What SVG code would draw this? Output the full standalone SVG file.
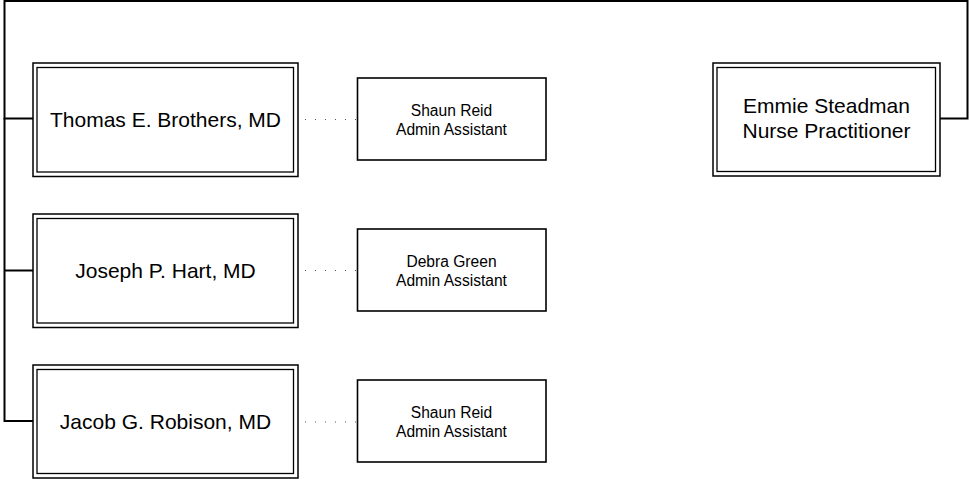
<svg xmlns="http://www.w3.org/2000/svg" width="970" height="479" viewBox="0 0 970 479">
<style>
.o{fill:#fff;stroke:#000;stroke-width:1.5}
.i{fill:none;stroke:#000;stroke-width:1.3}
.a{fill:#fff;stroke:#000;stroke-width:1.6}
.c{fill:none;stroke:#000;stroke-width:2}
.d{fill:none;stroke:#555;stroke-width:1;stroke-dasharray:1 9}
.t{font-family:"Liberation Sans",Arial,sans-serif;font-size:21px;fill:#000;text-anchor:middle}
.s{font-family:"Liberation Sans",Arial,sans-serif;font-size:15.6px;fill:#000;text-anchor:middle}
</style>
<rect width="970" height="479" fill="#fff"/>
<g id="connectors">
<polyline class="c" points="33,118.5 4.5,118.5 4.5,1 967.5,1 967.5,118.5 940,118.5"/>
<polyline class="c" points="4.5,118 4.5,421 33,421"/>
<line class="c" x1="4.5" y1="270.5" x2="33" y2="270.5"/>
<line class="d" x1="305" y1="119.5" x2="358" y2="119.5"/>
<line class="d" x1="305" y1="270.5" x2="358" y2="270.5"/>
<line class="d" x1="305" y1="422" x2="358" y2="422"/>
</g>
<g id="thomas">
<rect class="o" x="33" y="63" width="265" height="113.5"/>
<rect class="i" x="37" y="67.5" width="256.5" height="104.5"/>
<text class="t" x="165.5" y="127">Thomas E. Brothers, MD</text>
</g>
<g id="joseph">
<rect class="o" x="33" y="214" width="265" height="113.5"/>
<rect class="i" x="37" y="218.5" width="256.5" height="104.5"/>
<text class="t" x="165.5" y="278">Joseph P. Hart, MD</text>
</g>
<g id="jacob">
<rect class="o" x="33" y="365" width="265" height="113"/>
<rect class="i" x="37" y="369.5" width="256.5" height="104"/>
<text class="t" x="165.5" y="429">Jacob G. Robison, MD</text>
</g>
<g id="emmie">
<rect class="o" x="713" y="63" width="227" height="113"/>
<rect class="i" x="717" y="67.5" width="218.5" height="104"/>
<text class="t" x="826.5" y="113">Emmie Steadman</text>
<text class="t" x="826.5" y="137.5">Nurse Practitioner</text>
</g>
<g id="assistant1">
<rect class="a" x="357.5" y="78" width="188.5" height="82"/>
<text class="s" x="451.5" y="115.5">Shaun Reid</text>
<text class="s" x="451.5" y="134.5">Admin Assistant</text>
</g>
<g id="assistant2">
<rect class="a" x="357.5" y="229" width="188.5" height="82"/>
<text class="s" x="451.5" y="266.5">Debra Green</text>
<text class="s" x="451.5" y="285.5">Admin Assistant</text>
</g>
<g id="assistant3">
<rect class="a" x="357.5" y="380" width="188.5" height="82"/>
<text class="s" x="451.5" y="417.5">Shaun Reid</text>
<text class="s" x="451.5" y="436.5">Admin Assistant</text>
</g>
</svg>
